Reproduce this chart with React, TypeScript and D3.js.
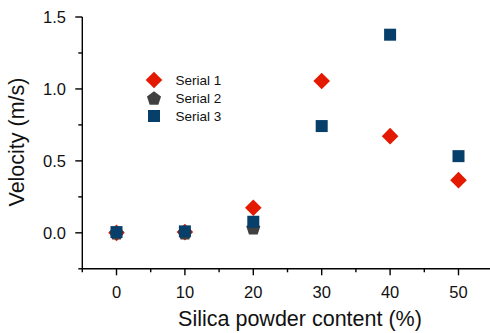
import React from "react";
import * as d3 from "d3";

const xTicks = [0, 10, 20, 30, 40, 50];
const yTicks = [0.0, 0.5, 1.0, 1.5];
const serial1X = [0, 10, 20, 30, 40, 50];
const serial1Y = [0.0, 0.005, 0.174, 1.055, 0.672, 0.366];
const serial2X = [0, 10, 20];
const serial2Y = [0.0, 0.0, 0.035];
const serial3X = [0, 10, 20, 30, 40, 50];
const serial3Y = [0.005, 0.01, 0.077, 0.742, 1.377, 0.533];
const seriesNames = ["Serial 1", "Serial 2", "Serial 3"];

const W = 490;
const H = 333;
const FONT = "Arial, 'Liberation Sans', Helvetica, sans-serif";
const RED = "#e41a00";
const GRAY = "#404040";
const BLUE = "#053f6a";

const x = d3.scaleLinear().domain([-5, 55]).range([82.3, 492.7]);
const y = d3.scaleLinear().domain([-0.25, 1.5]).range([268.8, 17]);

const diamond = (r: number) => `M0,${-r}L${r},0L0,${r}L${-r},0Z`;
const square = (s: number) => `M${-s / 2},${-s / 2}h${s}v${s}h${-s}Z`;
const pentagon = (r: number) => {
  const pts = d3.range(5).map((i) => {
    const a = -Math.PI / 2 + (i * 2 * Math.PI) / 5;
    return [r * Math.cos(a), r * Math.sin(a) + r * 0.1];
  });
  return "M" + pts.map((p) => p.join(",")).join("L") + "Z";
};

const markers = [
  { d: diamond(8.3), fill: RED },
  { d: pentagon(7.4), fill: GRAY },
  { d: square(12), fill: BLUE },
];

export default function App() {
  const [x0, x1] = x.range();
  const [yb, yt] = y.range();
  const xMinor = d3.range(-5, 56, 10);
  const yMinor = d3.range(-0.25, 1.5, 0.5);
  const series = [
    { xs: serial1X, ys: serial1Y },
    { xs: serial2X, ys: serial2Y },
    { xs: serial3X, ys: serial3Y },
  ];
  return (
    <svg
      width={W}
      height={H}
      style={{ position: "absolute", left: 0, top: 0, background: "#fff" }}
      fontFamily={FONT}
    >
      <rect width={W} height={H} fill="#fff" />
      <line x1={x0} x2={x0} y1={yb} y2={yt} stroke="#000" strokeWidth={1.4} />
      <line x1={x0} x2={x1} y1={yb} y2={yb} stroke="#000" strokeWidth={1.4} />
      {yTicks.map((t) => (
        <g key={"yt" + t}>
          <line x1={x0 - 7} x2={x0} y1={y(t)} y2={y(t)} stroke="#000" strokeWidth={1.4} />
          <text x={66} y={y(t)} dy="0.35em" textAnchor="end" fontSize={16.5} fill="#111">
            {t.toFixed(1)}
          </text>
        </g>
      ))}
      {yMinor.map((t) => (
        <line key={"ym" + t} x1={x0 - 4} x2={x0} y1={y(t)} y2={y(t)} stroke="#000" strokeWidth={1.4} />
      ))}
      {xTicks.map((t) => (
        <g key={"xt" + t}>
          <line x1={x(t)} x2={x(t)} y1={yb} y2={yb + 6.5} stroke="#000" strokeWidth={1.4} />
          <text x={x(t)} y={297.8} textAnchor="middle" fontSize={16.5} fill="#111">
            {t}
          </text>
        </g>
      ))}
      {xMinor.map((t) => (
        <line key={"xm" + t} x1={x(t)} x2={x(t)} y1={yb} y2={yb + 3.5} stroke="#000" strokeWidth={1.4} />
      ))}
      <text x={300} y={326} textAnchor="middle" fontSize={21.5} fill="#111">
        Silica powder content (%)
      </text>
      <text
        transform={`translate(23.5,142) rotate(-90)`}
        textAnchor="middle"
        fontSize={21.5}
        fill="#111"
      >
        Velocity (m/s)
      </text>
      {series.map((s, si) =>
        s.xs.map((xv, i) => (
          <path
            key={`p${si}-${i}`}
            d={markers[si].d}
            transform={`translate(${x(xv)},${y(s.ys[i])})`}
            fill={markers[si].fill}
          />
        ))
      )}
      {seriesNames.map((n, i) => (
        <g key={n} transform={`translate(154,${80 + i * 18})`}>
          <path d={markers[i].d} fill={markers[i].fill} />
          <text x={21.5} y={0} dy="0.36em" fontSize={13.5} fill="#111">
            {n}
          </text>
        </g>
      ))}
    </svg>
  );
}
